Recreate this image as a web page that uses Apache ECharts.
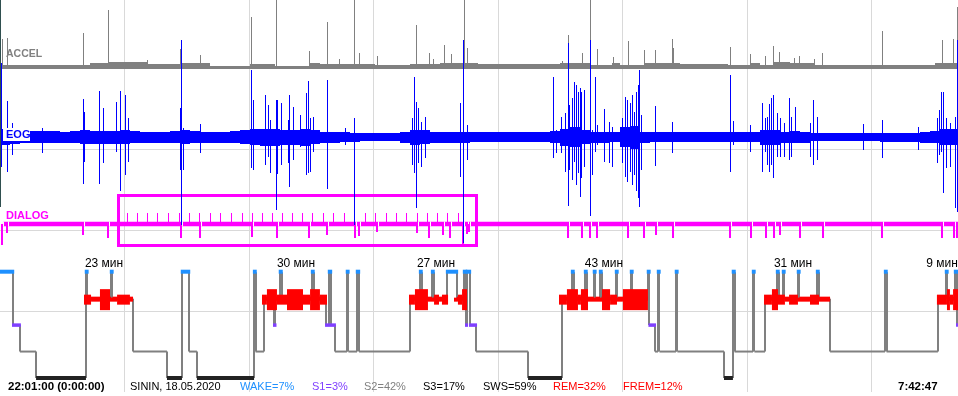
<!DOCTYPE html>
<html><head><meta charset="utf-8">
<script src="https://cdn.jsdelivr.net/npm/echarts@6/dist/echarts.min.js"></script>
<style>html,body{margin:0;padding:0;background:#fff;overflow:hidden}#c{width:958px;height:396px}</style>
</head><body><div id="c"></div>
<script>
// ---- time unit: minutes from recording start (22:01:00) ----
const recordMinutes = 581.8;
const gridStepMinutes = 75.6;

// ---- ACCEL (units: 10 per display pixel above baseline) ----
const accelLevelStart = [0, 54.7, 65.6, 89.3, 109.3, 127.5, 151.8, 167.0, 188.3, 194.3, 227.7, 249.0, 267.2, 290.3, 340.1, 358.3, 371.7, 376.5, 391.7, 413.0, 442.1, 455.5, 461.5, 469.4, 479.8, 494.9, 528.4, 567.8];
const accelLevel = [27, 47, 60, 40, 47, 23, 40, 20, 53, 37, 27, 40, 47, 40, 47, 30, 47, 30, 47, 37, 30, 53, 27, 63, 47, 27, 30, 47];
const accelSpikeTime = [1.2, 4.3, 50.4, 65.6, 89.3, 109.3, 121.5, 152.4, 167.6, 187.7, 198.6, 205.9, 215.0, 218.0, 229.0, 252.6, 260.5, 263.0, 269.6, 273.9, 281.8, 283.6, 341.3, 344.9, 353.4, 358.3, 362.6, 372.3, 381.4, 391.1, 397.8, 408.1, 408.7, 443.3, 455.5, 464.6, 469.4, 473.1, 482.2, 485.2, 494.3, 499.2, 535.6, 572.1, 578.8, 581.2];
const accelSpikeValue = [290, 300, 350, 580, 80, 190, 130, 510, 680, 170, 460, 90, 680, 150, 120, 430, 150, 90, 230, 140, 680, 200, 70, 330, 150, 680, 190, 110, 270, 180, 180, 290, 200, 210, 140, 120, 220, 160, 100, 120, 90, 150, 370, 280, 290, 610];

// ---- EOG (µV) ----
const eogBinMinutes = 6.073;
const eogEnvelope = [80,65,55,60,60,60,55,60,70,65,
  65,65,70,60,55,55,55,60,70,60,
  55,55,55,60,70,80,85,85,75,75,
  85,70,55,55,50,45,40,40,40,40,
  55,75,70,55,55,55,55,50,50,50,
  50,50,50,50,50,60,85,100,70,55,
  55,50,100,115,55,50,50,50,50,50,
  50,50,50,50,50,50,75,75,55,60,
  55,40,40,40,40,40,40,40,45,45,
  45,45,55,60,80,80];
const eogSpikeTime = [0.6,4.3,7.3,25.5,50.4,51.0,60.1,62.6,70.4,72.9,
  75.9,77.7,109.3,109.9,111.1,121.5,152.4,153.6,160.9,162.8,
  164.0,167.6,168.2,170.7,174.9,175.5,177.9,182.2,185.8,187.0,
  188.3,190.1,198.6,209.5,215.0,250.2,251.4,252.6,253.9,255.7,
  258.1,279.4,281.2,283.6,335.8,337.7,340.7,343.1,344.9,345.6,
  347.4,348.6,349.8,351.0,352.2,352.8,354.7,358.3,359.5,361.3,
  362.6,366.8,369.8,371.7,377.7,379.6,380.8,382.6,383.8,385.0,
  386.2,387.5,388.1,389.3,397.8,408.1,443.3,445.1,455.5,462.8,
  464.6,465.8,467.0,468.2,469.4,471.9,473.7,476.1,479.2,480.4,
  482.8,491.9,493.7,496.2,524.1,535.6,557.5,569.0,570.3,571.5,
  572.7,574.5,576.9,580.0,581.2];
const eogSpikeHigh = [740,360,140,90,380,250,460,290,350,460,
  420,190,290,970,90,130,670,370,420,320,
  170,370,370,340,170,420,300,220,440,560,
  190,200,570,90,190,190,600,350,290,150,
  200,340,970,120,600,70,200,240,940,320,
  390,550,520,450,490,450,470,970,70,600,
  120,280,150,100,190,400,370,340,420,250,
  450,520,670,220,310,150,620,160,120,340,
  190,200,330,390,420,240,190,140,390,200,
  300,140,370,200,130,170,100,190,270,450,
  450,190,140,200,970];
const eogSpikeLow = [-300,-350,-180,-160,-470,-250,-470,-260,-150,-540,
  -380,-250,-330,-880,-330,-160,-310,-330,-280,-200,
  -360,-730,-370,-280,-260,-500,-230,-100,-380,-360,
  -350,-150,-520,-80,-880,-280,-360,-710,-260,-300,
  -210,-400,-1060,-230,-210,-160,-160,-350,-690,-330,
  -430,-250,-480,-360,-600,-410,-300,-790,-380,-150,
  -80,-250,-260,-300,-260,-400,-450,-350,-480,-380,
  -540,-610,-700,-330,-290,-160,-350,-80,-150,-350,
  -150,-280,-350,-280,-410,-200,-200,-200,-230,-200,
  -60,-200,-280,-230,-130,-210,-130,-260,-180,-150,
  -560,-310,-300,-710,-750];

// ---- DIALOG ----
const dialogStart = 1.8;
const dialogPromptTime = [77.1, 83.2, 89.3, 95.3, 102.0, 108.7, 114.8, 120.9, 127.5, 133.6, 140.3, 147.0, 153.0, 159.1, 165.2, 171.3, 177.3, 183.4, 189.5, 196.2, 202.2, 208.9, 215.0, 221.7, 227.7, 234.4, 240.5, 246.6, 253.2, 259.3, 265.4, 271.5, 278.1];
const dialogPromptHeight = 110;
const dialogResponseTime = [1.2, 4.3, 50.4, 65.6, 109.9, 121.5, 153.0, 168.2, 187.7, 198.6, 215.6, 218.0, 229.0, 253.2, 260.5, 269.0, 273.3, 281.2, 283.6, 284.8, 344.9, 353.4, 358.3, 362.6, 381.4, 391.1, 398.4, 408.7, 443.3, 456.1, 465.2, 470.0, 473.7, 485.8, 499.8, 535.6, 572.1, 579.4, 581.2];
const dialogResponseDepth = [-210, -90, -110, -140, -140, -140, -130, -140, -140, -110, -140, -120, -80, -90, -140, -110, -140, -200, -100, -80, -140, -140, -140, -140, -140, -140, -110, -140, -140, -140, -140, -140, -110, -140, -140, -140, -140, -140, -140];
const dialogTestWindow = [71.4, 289.1];

// ---- Hypnogram ----
const stageCodes = ['S3', 'S2', 'S1', 'R', 'W'];
const hypnoStart = [0,7.9,12.1,21.9,52.2,53.1,67.4,68.3,80.8,101.4,
  110.5,114.8,119.6,154.3,155.2,160.3,166.4,167.3,170.0,171.0,
  189.5,190.4,198.0,199.8,201.0,203.4,210.7,211.6,216.8,218.0,
  249.0,255.1,256.0,262.4,263.3,271.5,277.5,281.8,283.0,283.6,
  285.4,289.1,320.7,341.3,347.4,348.3,355.3,356.2,360.7,361.6,
  364.4,365.3,374.1,375.0,383.2,384.1,393.5,394.4,397.8,399.6,
  400.5,410.5,411.4,439.7,445.1,446.1,457.3,458.2,464.6,471.9,
  472.8,475.5,476.4,484.6,485.5,496.2,497.1,504.1,537.5,538.4,
  569.6,574.5,575.4,580.0,581.2];
const hypnoStage = ['W','S1','S2','S3','W','R','W','R','S2','S3',
  'W','S2','S3','W','S2','R','S1','R','W','R',
  'W','R','S1','W','S1','S2','W','S2','W','S2',
  'R','W','R','W','R','W','R','W','S1','W',
  'S1','S2','S3','R','W','R','W','R','W','R',
  'W','R','W','R','W','R','W','S1','S2','W',
  'S2','W','S2','S3','W','S2','W','S2','R','W',
  'R','W','R','W','R','W','R','S2','W','S2',
  'R','W','R','W','S1'];
const remBlockStart = [51.0,55.3,60.7,66.8,71.1,78.9, 159.1,162.1,168.2,174.3,184.0,188.3,194.3,
  248.4,252.0,259.9,263.6,266.6,268.4,275.7,278.1,280.6,
  339.5,344.3,351.0,352.8,357.1,365.6,370.5,374.7,378.3,
  464.0,468.8,472.5,476.7,479.2,484.6,491.9,497.4, 569.0,575.1,576.9,578.8];
const remBlockEnd = [55.3,60.7,66.8,71.1,78.9,80.8, 162.1,168.2,174.3,184.0,188.3,194.3,198.6,
  252.0,259.9,263.6,266.6,268.4,272.1,278.1,280.6,283.6,
  344.3,351.0,352.8,357.1,365.6,370.5,374.7,378.3,393.5,
  468.8,472.5,476.7,479.2,484.6,491.9,497.4,504.1, 575.1,576.9,578.8,581.8];
const remBlockLevel = [2,1,3,1,2,1, 2,3,2,3,2,3,2, 2,3,1,2,1,2,1,2,3, 2,3,2,3,1,3,2,1,3, 2,3,2,1,2,1,2,1, 2,3,2,3];
const remLabelTime = [63.2, 179.8, 264.8, 366.8, 481.6, 572.1];
const remLabelText = ['23 мин', '30 мин', '27 мин', '43 мин', '31 мин', '9 мин'];

// ---- Summary texts ----
const statNames = ['WAKE', 'S1', 'S2', 'S3', 'SWS', 'REM', 'FREM'];
const statValues = [7, 3, 42, 17, 59, 32, 12];
const startLabel = '22:01:00 (0:00:00)';
const patientLabel = 'SININ, 18.05.2020';
const endLabel = '7:42:47';

// ================= rendering =================
const FONT = '"Liberation Sans", Arial, sans-serif';
const C = { grid:'#d9d9d9', accel:'#808080', eog:'#0000ff', dialog:'#ff00ff', wake:'#1e90ff', s1:'#8040ff', s2:'#808080', s3:'#222222', rem:'#ff0000' };
const statColors = [C.wake, C.s1, '#808080', '#000', '#000', C.rem, C.rem];
const statX = [240, 312, 364, 423, 483, 553, 623];
const stageY = s => stageCodes.indexOf(s);
const snap = x => Math.round(x) + 0.5;

function vline(api, t, v0, v1, color, w) {
  const a = api.coord([t, v0]), b = api.coord([t, v1]);
  const x = w % 2 === 1 ? snap(a[0]) : Math.round(a[0]);
  return { type: 'line', shape: { x1: x, y1: a[1], x2: x, y2: b[1] }, style: { stroke: color, lineWidth: w } };
}
function rectBetween(a, b, fill) {
  const x0 = Math.round(Math.min(a[0], b[0])), x1 = Math.round(Math.max(a[0], b[0]));
  const y0 = Math.round(Math.min(a[1], b[1])), y1 = Math.round(Math.max(a[1], b[1]));
  return { type: 'rect', shape: { x: x0, y: y0, width: Math.max(1, x1 - x0), height: Math.max(1, y1 - y0) }, style: { fill } };
}
function custom(yIdx, data, renderItem, extra) {
  return Object.assign({ type: 'custom', coordinateSystem: 'cartesian2d', xAxisIndex: 0, yAxisIndex: yIdx, silent: true, data, renderItem }, extra || {});
}

const segEnd = (arr, i) => (i + 1 < arr.length ? arr[i + 1] : recordMinutes);
const accelSegs = accelLevelStart.map((s, i) => [s, segEnd(accelLevelStart, i), accelLevel[i]]);
const hypSegs = hypnoStart.map((s, i) => [s, segEnd(hypnoStart, i), stageY(hypnoStage[i])]);
const hypTrans = hypnoStart.slice(1).map((t, i) => [t, stageY(hypnoStage[i]), stageY(hypnoStage[i + 1])]);
const remBlocks = remBlockStart.map((s, i) => [s, remBlockEnd[i], remBlockLevel[i]]);
const eogBins = eogEnvelope.map((h, i) => [i * eogBinMinutes, Math.min((i + 1) * eogBinMinutes, recordMinutes), h]);

const series = [
  // ACCEL band
  custom(1, accelSegs, (p, api) => {
    const a = api.coord([api.value(0), api.value(2)]), b = api.coord([api.value(1), -10]);
    return rectBetween(a, b, C.accel);
  }),
  // ACCEL spikes
  custom(1, accelSpikeTime.map((t, i) => [t, accelSpikeValue[i]]), (p, api) => vline(api, api.value(0), 0, api.value(1), C.accel, 1)),
  // DIALOG baseline
  custom(3, [[dialogStart, recordMinutes]], (p, api) => {
    const a = api.coord([api.value(0), 22.5]), b = api.coord([api.value(1), -22.5]);
    return { type: 'rect', shape: { x: a[0], y: a[1], width: b[0] - a[0], height: b[1] - a[1] }, style: { fill: C.dialog } };
  }),
  // DIALOG prompts
  custom(3, dialogPromptTime.map(t => [t, dialogPromptHeight]), (p, api) => vline(api, api.value(0), 0, api.value(1), C.dialog, 1)),
  // DIALOG responses
  custom(3, dialogResponseTime.map((t, i) => [t, dialogResponseDepth[i]]), (p, api) => {
    const a = api.coord([api.value(0), 0]);
    return { type: 'group', children: [
      { type: 'rect', shape: { x: Math.round(a[0]) + 1, y: a[1] - 2.5, width: 1, height: 5 }, style: { fill: '#fff' } },
      vline(api, api.value(0), 0, api.value(1), C.dialog, 2)
    ] };
  }),
  // test window frame
  custom(3, [dialogTestWindow], (p, api) => {
    const a = api.coord([api.value(0), 0]), b = api.coord([api.value(1), 0]);
    return { type: 'rect', shape: { x: Math.round(a[0]) + 0.5, y: Math.round(a[1]) - 28.5, width: Math.round(b[0] - a[0]), height: 50 }, style: { fill: 'none', stroke: C.dialog, lineWidth: 3 } };
  }),
  // EOG band
  custom(2, eogBins, (p, api) => {
    const a = api.coord([api.value(0), api.value(2)]), b = api.coord([api.value(1), -api.value(2)]);
    return rectBetween(a, b, C.eog);
  }),
  // EOG spikes
  custom(2, eogSpikeTime.map((t, i) => [t, eogSpikeHigh[i], eogSpikeLow[i]]), (p, api) => vline(api, api.value(0), api.value(2), api.value(1), C.eog, 1)),
  // hypnogram transitions
  custom(4, hypTrans, (p, api) => vline(api, api.value(0), api.value(1), api.value(2), '#808080', 2)),
  // hypnogram stage bars (non-wake)
  custom(4, hypSegs, (p, api) => {
    const s = api.value(2);
    if (s === 4) return null;
    const a = api.coord([api.value(0), s]), b = api.coord([api.value(1), s]);
    const st = { 0: [4, C.s3, 0], 1: [2, C.s2, 0], 2: [3.5, C.s1, 1], 3: [4, C.rem, 0] }[s];
    return { type: 'rect', shape: { x: a[0] - st[2], y: a[1] - st[0] / 2, width: b[0] - a[0] + 2 * st[2], height: st[0] }, style: { fill: st[1] } };
  }),
  // REM thickness blocks
  custom(4, remBlocks, (p, api) => {
    const h = [0, 4, 10, 21][api.value(2)];
    const a = api.coord([api.value(0), 3]), b = api.coord([api.value(1), 3]);
    return { type: 'rect', shape: { x: a[0], y: a[1] + 1 - h / 2, width: b[0] - a[0], height: h }, style: { fill: C.rem } };
  }),
  // wake bars
  custom(4, hypSegs, (p, api) => {
    if (api.value(2) !== 4) return null;
    const a = api.coord([api.value(0), 4]), b = api.coord([api.value(1), 4]);
    return { type: 'rect', shape: { x: a[0] - 1.2, y: a[1] - 2.5, width: b[0] - a[0] + 2.4, height: 4 }, style: { fill: C.wake } };
  }),
  // REM period duration labels
  custom(4, remLabelTime.map((t, i) => [t, 4, i]), (p, api) => {
    const a = api.coord([api.value(0), api.value(1)]);
    return { type: 'text', style: { text: remLabelText[api.value(2)], x: a[0], y: a[1] - 3, align: 'center', verticalAlign: 'bottom', textAlign: 'center', textVerticalAlign: 'bottom', font: '12px ' + FONT, fill: '#000' } };
  })
];

const hidden = { show: false };
const yAxis = [
  { type: 'value', gridIndex: 0, min: 0, max: 4.84, interval: 1, axisLine: hidden, axisTick: hidden, axisLabel: hidden,
    splitLine: { show: true, showMinLine: false, showMaxLine: false, lineStyle: { color: C.grid, width: 1 } } },
  { type: 'value', gridIndex: 0, min: -3240, max: 680, show: false, splitLine: hidden },
  { type: 'value', gridIndex: 0, min: -2550, max: 1370, show: false, splitLine: hidden },
  { type: 'value', gridIndex: 0, min: -1680, max: 2240, show: false, splitLine: hidden },
  { type: 'value', gridIndex: 0, min: -0.529, max: 14.291, show: false, splitLine: hidden }
];

const txt = (x, y, text, fill, font) => ({ type: 'text', x, y, z: 200, silent: true,
  style: { text, fill, font, verticalAlign: 'middle', textVerticalAlign: 'middle' } });

const graphic = [
  { type: 'rect', z: 150, silent: true, shape: { x: 0, y: 0, width: 1, height: 207 }, style: { fill: '#2f4f4f' } },
  txt(6, 54, 'ACCEL', '#808080', 'bold 10.5px ' + FONT),
  { type: 'rect', z: 150, silent: true, shape: { x: 3, y: 128, width: 27, height: 13 }, style: { fill: '#ffffff' } },
  txt(6, 134.5, 'EOG', C.eog, 'bold 11px ' + FONT),
  txt(6, 215.5, 'DIALOG', C.dialog, 'bold 11px ' + FONT),
  txt(8, 387, startLabel, '#000', 'bold 11.5px ' + FONT),
  txt(130, 387, patientLabel, '#000', '11px ' + FONT),
  ...statNames.map((n, i) => txt(statX[i], 387, n + '=' + statValues[i] + '%', statColors[i], '11px ' + FONT)),
  txt(898, 387, endLabel, '#000', 'bold 11.5px ' + FONT)
];

const chart = echarts.init(document.getElementById('c'), null, { renderer: 'canvas' });
chart.setOption({
  animation: false,
  backgroundColor: '#fff',
  grid: [{ left: 0, right: 0, top: 0, height: 392, containLabel: false }],
  xAxis: [{ type: 'value', gridIndex: 0, min: 0, max: recordMinutes, interval: gridStepMinutes,
    axisLine: hidden, axisTick: hidden, axisLabel: hidden,
    splitLine: { show: true, showMinLine: false, showMaxLine: false, lineStyle: { color: C.grid, width: 1 } } }],
  yAxis,
  series,
  graphic
});
</script></body></html>
